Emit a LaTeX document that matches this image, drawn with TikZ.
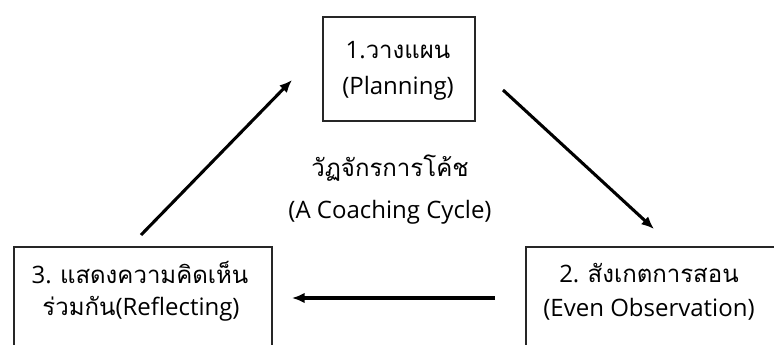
\documentclass[tikz,border=0pt]{standalone}
\usepackage{fontspec}
\setmainfont{Open Sans}
\newfontfamily\thaifont[Script=Thai]{Loma}
\newcommand{\thtext}[1]{{\thaifont\fontsize{18}{21}\selectfont #1}}
\usetikzlibrary{arrows.meta}
\begin{document}
\begin{tikzpicture}[x=0.75pt,y=-0.75pt,
  box/.style={draw=black!85,line width=1.5pt,inner sep=0pt},
  lbl/.style={font=\fontsize{18}{21}\selectfont,inner sep=0pt,anchor=center},
  flow/.style={line width=2.3pt,-{Latex[length=9.5pt,width=8pt]}}]
\useasboundingbox (0,0) rectangle (774,345);
\clip (0,0) rectangle (774,345);
% three stages of the cycle
\node[box,minimum width=152*0.75pt,minimum height=104*0.75pt,anchor=north west] (plan) at (322,16) {};
\node[box,minimum width=258*0.75pt,minimum height=120*0.75pt,anchor=north west] (refl) at (13,246) {};
\node[box,minimum width=270*0.75pt,minimum height=120*0.75pt,anchor=north west] (obs) at (525,246) {};
% stage labels
\node[lbl] (plan1) at (398,50) {1.\thtext{วางแผน}};
\node[lbl] (plan2) at (398,88) {(Planning)};
\node[lbl] (obs1) at (649,273) {2. \thtext{สังเกตการสอน}};
\node[lbl] (obs2) at (649,309) {(Even Observation)};
\node[lbl] (refl1) at (140,273) {3. \thtext{แสดงความคิดเห็น}};
\node[lbl] (refl2) at (141,309) {\thtext{ร่วมกัน}(Reflecting)};
% title in the middle
\node[lbl] (title1) at (390,168) {\thtext{วัฏจักรการโค้ช}};
\node[lbl] (title2) at (390,212) {(A Coaching Cycle)};
% arrow end points
\coordinate (a1s) at (503,90);  \coordinate (a1e) at (654,229);
\coordinate (a2s) at (495,298); \coordinate (a2e) at (292,298);
\coordinate (a3s) at (141,235); \coordinate (a3e) at (292,80);
\draw[flow] (a1s) -- (a1e);
\draw[flow] (a2s) -- (a2e);
\draw[flow] (a3s) -- (a3e);
\end{tikzpicture}
\end{document}
